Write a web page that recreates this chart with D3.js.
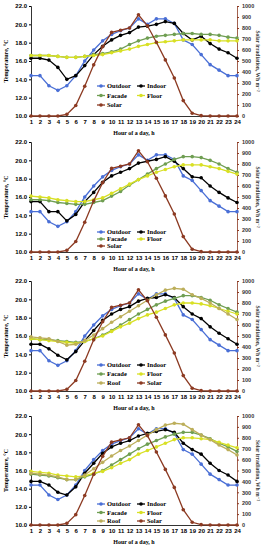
<!DOCTYPE html>
<html>
<head>
<meta charset="utf-8">
<script src="https://cdn.jsdelivr.net/npm/d3@7"></script>
<style>
  html, body { margin: 0; padding: 0; background: #fff; }
  svg { display: block; font-family: "Liberation Serif", "DejaVu Serif", serif; font-weight: bold; }
</style>
</head>
<body>
<div id="graph"></div>
<script>
// hours of the day (x axis)
const hours = [1,2,3,4,5,6,7,8,9,10,11,12,13,14,15,16,17,18,19,20,21,22,23,24];
const tempTicks = [10,12,14,16,18,20,22];
const solarTicks = [0,100,200,300,400,500,600,700,800,900,1000];

// same outdoor weather and sun for all four cases
const outdoor = [14.4,14.4,13.3,12.8,13.3,14.4,16.0,17.2,18.2,18.9,19.3,19.6,20.6,20.0,20.6,20.6,20.1,18.3,17.8,16.7,15.6,15.0,14.4,14.4];
const solar = [0,0,0,0,15,95,270,465,630,760,780,800,920,820,670,510,345,140,25,3,0,0,0,0];

// case 1
const indoor1 = [16.3,16.3,16.1,15.3,14.0,14.4,15.5,16.7,17.6,18.3,18.8,19.1,19.7,19.8,20.0,20.3,20.1,19.0,18.3,18.7,17.9,17.3,16.9,16.3];
const facade1 = [16.6,16.6,16.6,16.5,16.4,16.4,16.5,16.7,16.8,17.0,17.3,17.8,18.2,18.5,18.7,18.8,18.9,19.0,19.0,18.9,18.9,18.8,18.6,18.5];
const floor1 = [16.6,16.6,16.6,16.5,16.4,16.4,16.5,16.6,16.7,16.9,17.1,17.3,17.6,17.8,18.0,18.1,18.2,18.3,18.3,18.3,18.3,18.2,18.2,18.2];
// case 2
const indoor2 = [15.5,15.5,14.4,14.4,13.4,14.1,15.5,16.5,17.6,18.3,18.7,19.1,19.7,19.9,20.1,20.4,19.9,19.1,18.2,18.1,17.2,16.5,15.9,15.4];
const facade2 = [15.7,15.7,15.6,15.4,15.3,15.2,15.2,15.4,15.6,16.1,16.6,17.3,17.9,18.5,19.1,19.6,20.1,20.4,20.4,20.3,20.0,19.6,19.1,18.7];
const floor2 = [16.1,16.0,15.9,15.7,15.6,15.5,15.5,15.7,15.9,16.4,16.9,17.4,17.9,18.3,18.7,19.0,19.3,19.5,19.5,19.5,19.3,19.1,18.8,18.5];
// case 3
const indoor3 = [15.1,15.1,14.6,13.9,13.4,14.3,15.5,16.6,17.7,18.4,18.9,19.2,19.8,20.1,20.2,20.5,20.2,19.2,18.4,17.9,17.0,16.3,15.7,15.1];
const facade3 = [15.7,15.6,15.6,15.5,15.4,15.3,15.4,15.7,16.1,16.6,17.2,17.8,18.4,18.9,19.4,19.8,20.1,20.4,20.4,20.2,19.9,19.4,19.0,18.6];
const floor3 = [15.7,15.6,15.5,15.4,15.3,15.2,15.4,15.7,16.0,16.5,17.0,17.4,17.9,18.3,18.6,19.0,19.4,19.6,19.6,19.5,19.3,19.0,18.7,18.4];
const roof3 = [15.9,15.8,15.7,15.4,15.0,15.1,15.5,16.1,16.8,17.5,18.1,18.7,19.3,19.9,20.5,21.0,21.2,21.1,20.5,20.1,19.6,19.0,18.4,17.8];
// case 4
const indoor4 = [14.8,14.8,14.4,13.6,13.3,14.2,15.7,16.8,17.9,18.6,19.0,19.3,19.8,20.1,20.3,20.5,20.2,19.0,18.3,17.8,16.8,16.0,15.5,14.8];
const facade4 = [15.6,15.5,15.4,15.2,15.0,15.0,15.3,15.6,16.0,16.6,17.2,17.8,18.4,18.9,19.3,19.7,20.0,20.2,20.2,19.9,19.5,19.0,18.6,18.1];
const floor4 = [15.9,15.8,15.7,15.5,15.4,15.3,15.4,15.7,15.9,16.3,16.8,17.2,17.8,18.2,18.6,19.0,19.4,19.6,19.6,19.5,19.4,19.1,18.8,18.5];
const roof4 = [15.7,15.6,15.5,15.3,15.0,15.0,15.5,16.2,16.9,17.6,18.2,18.7,19.3,19.9,20.5,21.0,21.2,21.1,20.5,19.9,19.4,18.8,18.3,17.7];

const colors = {
    Outdoor: "#4a6fd6",
    Indoor: "#000000",
    Facade: "#6f9e52",
    Floor: "#d8e024",
    Roof: "#bcae5a",
    Solar: "#8c3a22"
};

// the four panels (top = y of 22.0, bottom = y of 10.0)
const panels = [
    { top: 6,   bottom: 116, series: { Outdoor: outdoor, Indoor: indoor1, Facade: facade1, Floor: floor1 },
      legend: [["Outdoor","Indoor"],["Facade","Floor"],["Solar"]], legendTop: 86, legendGap: 9.5 },
    { top: 142, bottom: 252, series: { Outdoor: outdoor, Indoor: indoor2, Facade: facade2, Floor: floor2 },
      legend: [["Outdoor","Indoor"],["Facade","Floor"],["Solar"]], legendTop: 232, legendGap: 7 },
    { top: 281, bottom: 391, series: { Outdoor: outdoor, Indoor: indoor3, Facade: facade3, Floor: floor3, Roof: roof3 },
      legend: [["Outdoor","Indoor"],["Facade","Floor"],["Roof","Solar"]], legendTop: 365, legendGap: 9 },
    { top: 416, bottom: 525, series: { Outdoor: outdoor, Indoor: indoor4, Facade: facade4, Floor: floor4, Roof: roof4 },
      legend: [["Outdoor","Indoor"],["Facade","Floor"],["Roof","Solar"]], legendTop: 504, legendGap: 8.5 }
];

const width = 263, height = 550;
const left = 31, right = 237;

const svg = d3.select("#graph").append("svg")
    .attr("width", width)
    .attr("height", height);

panels.forEach(p => drawPanel(svg, p));

function drawPanel(svg, p) {
    const x = d3.scaleLinear().domain([1, 24]).range([left, right]);
    const y = d3.scaleLinear().domain([10, 22]).range([p.bottom, p.top]);
    const y2 = d3.scaleLinear().domain([0, 1000]).range([p.bottom, p.top]);

    const g = svg.append("g");

    // axes
    const axisL = g.append("g")
        .attr("transform", "translate(" + left + ",0)")
        .call(d3.axisLeft(y).tickValues(tempTicks).tickFormat(d3.format(".1f")).tickSize(2).tickPadding(2));
    axisL.selectAll("text").style("font-size", "6px");

    const axisR = g.append("g")
        .attr("transform", "translate(" + right + ",0)")
        .call(d3.axisRight(y2).tickValues(solarTicks).tickFormat(d3.format("d")).tickSize(2).tickPadding(3));
    axisR.selectAll("text").style("font-size", "5.5px").attr("fill", "#333");
    axisR.selectAll("path, line").attr("stroke", colors.Solar);

    const axisB = g.append("g")
        .attr("transform", "translate(0," + p.bottom + ")")
        .call(d3.axisBottom(x).tickValues(hours).tickSize(0).tickPadding(4));
    axisB.selectAll("text").style("font-size", "6px");

    g.selectAll(".domain").attr("stroke-width", 0.8);

    // axis titles
    g.append("text")
        .attr("x", (left + right) / 2)
        .attr("y", p.bottom + 19)
        .attr("text-anchor", "middle")
        .style("font-size", "6px")
        .text("Hour of a day, h");

    g.append("text")
        .attr("transform", "translate(8," + (p.top + p.bottom) / 2 + ") rotate(-90)")
        .attr("text-anchor", "middle")
        .style("font-size", "6px")
        .text("Temperature, °C");

    g.append("text")
        .attr("transform", "translate(256," + (p.top + p.bottom) / 2 + ") rotate(90)")
        .attr("text-anchor", "middle")
        .style("font-size", "5.5px")
        .attr("fill", "#333")
        .text("Solar irradiation, Wh m⁻²");

    // temperature lines
    const line = d3.line().x((d, i) => x(hours[i])).y(d => y(d));
    Object.keys(p.series).forEach(name => {
        const data = p.series[name];
        g.append("path")
            .datum(data)
            .attr("fill", "none")
            .attr("stroke", colors[name])
            .attr("stroke-width", 1.3)
            .attr("d", line);
        g.selectAll(null)
            .data(data)
            .enter()
            .append("circle")
            .attr("cx", (d, i) => x(hours[i]))
            .attr("cy", d => y(d))
            .attr("r", 1.8)
            .attr("fill", colors[name]);
    });

    // solar line on right axis
    const sline = d3.line().x((d, i) => x(hours[i])).y(d => y2(d));
    g.append("path")
        .datum(solar)
        .attr("fill", "none")
        .attr("stroke", colors.Solar)
        .attr("stroke-width", 1.3)
        .attr("d", sline);
    g.selectAll(null)
        .data(solar)
        .enter()
        .append("circle")
        .attr("cx", (d, i) => x(hours[i]))
        .attr("cy", d => y2(d))
        .attr("r", 1.8)
        .attr("fill", colors.Solar);

    // legend
    const colX = [97, 137];
    p.legend.forEach((row, r) => {
        row.forEach((name, c) => {
            const lx = colX[c];
            const ly = p.legendTop + r * p.legendGap;
            g.append("line")
                .attr("x1", lx).attr("x2", lx + 8)
                .attr("y1", ly).attr("y2", ly)
                .attr("stroke", colors[name])
                .attr("stroke-width", 1.3);
            g.append("circle")
                .attr("cx", lx + 4).attr("cy", ly)
                .attr("r", 1.8)
                .attr("fill", colors[name]);
            g.append("text")
                .attr("x", lx + 10)
                .attr("y", ly + 2.2)
                .style("font-size", "6.5px")
                .text(name);
        });
    });
}
</script>
</body>
</html>
